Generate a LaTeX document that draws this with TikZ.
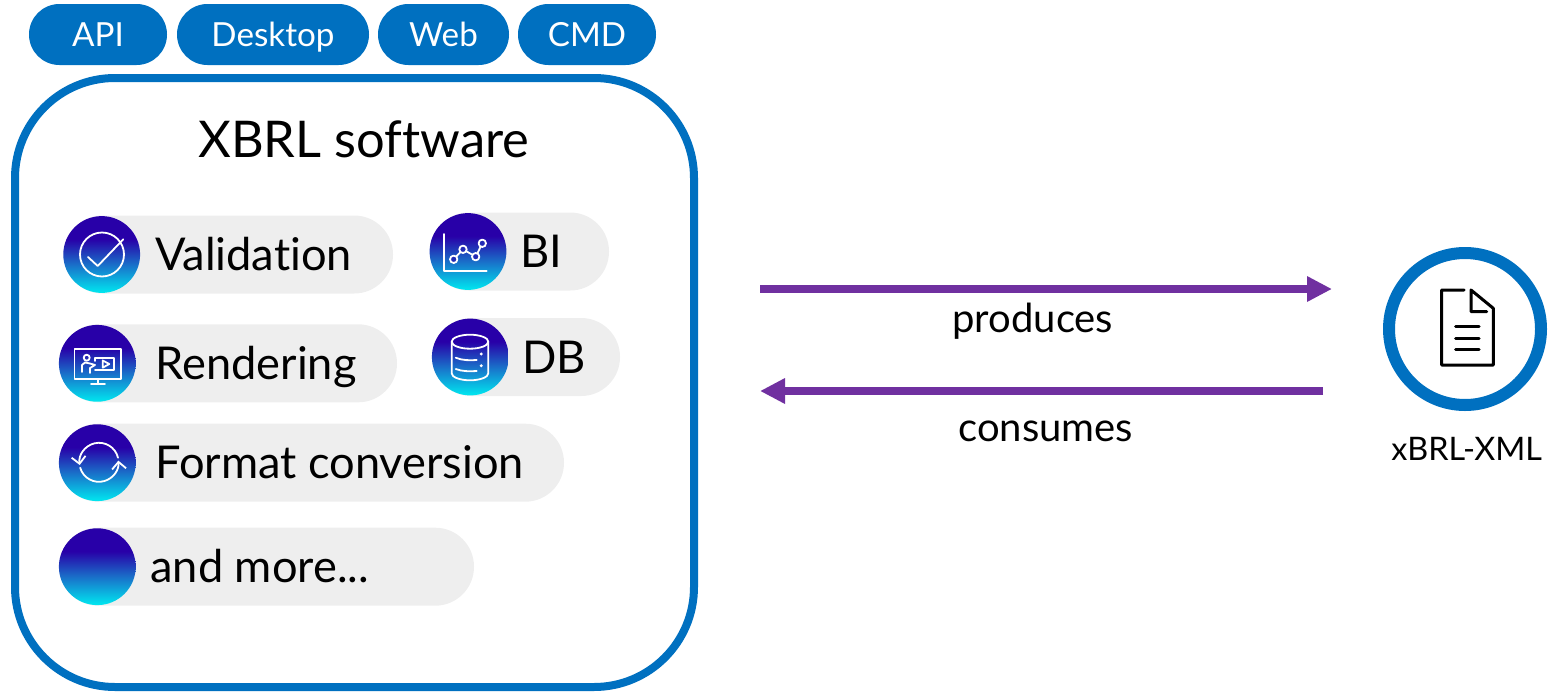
\documentclass[tikz,border=0pt]{standalone}
\usepackage{fontspec}
\setmainfont{Lato}[RawFeature={-liga}]
\usetikzlibrary{positioning}
\usetikzlibrary{arrows.meta}

\definecolor{boxblue}{HTML}{0070C0}
\definecolor{flowpurple}{HTML}{7030A0}
\definecolor{pillgray}{HTML}{EEEEEE}
\definecolor{fadetop}{HTML}{2800A8}
\definecolor{fademid}{HTML}{1A6CC8}
\definecolor{fadelow}{HTML}{00E8F0}
\pgfdeclareverticalshading{iconfade}{100bp}{color(0bp)=(fadelow); color(25bp)=(fadelow); color(44bp)=(fademid); color(60bp)=(fadetop); color(100bp)=(fadetop)}

\tikzset{
    toppill/.style={rectangle, rounded corners=15.2pt, fill=boxblue, text=white, inner sep=0pt, minimum height=30.5pt, text height=12pt, text depth=0pt, font=\fontsize{16.6}{20}\selectfont},
    graypill/.style={rectangle, rounded corners=19.4pt, fill=pillgray, inner sep=0pt, minimum height=39pt},
    icondisc/.style={circle, shading=iconfade, inner sep=0pt, minimum size=38.4pt},
    pilltext/.style={anchor=base west, inner sep=0pt, font=\fontsize{22.6}{26}\selectfont},
    flowtext/.style={anchor=base west, inner sep=0pt, font=\fontsize{20}{24}\selectfont},
    iconline/.style={draw=white, line width=0.9pt, line cap=round, line join=round},
    flowarrow/.style={draw=flowpurple, line width=4pt, -{Triangle[length=12.5pt,width=12pt]}},
    docline/.style={draw=black, line width=1.5pt, line cap=round, line join=round}
}

\begin{document}
\begin{tikzpicture}[x=0.5pt, y=-0.5pt]

\useasboundingbox (0,0) rectangle (1548,691);

% Interface pills
\foreach \name/\cx/\pillw/\txt in {api/98/138/API, desktop/273/192/Desktop, web/443.5/131/Web, cmd/587/138/CMD} {
    \node[toppill, minimum width=\pillw*0.5pt] (\name) at (\cx,34.5) {\txt};
}

% Software box
\node[draw=boxblue, line width=4pt, rounded corners=50pt, minimum width=339.5pt, minimum height=304.5pt, inner sep=0pt] (software) at (354.5,382.5) {};
\node[anchor=base west, inner sep=0pt, font=\fontsize{25.3}{30}\selectfont] (softwaretitle) at (198,157) {XBRL software};

% Feature pills
\foreach \name/\cx/\cy/\rx/\tx/\by/\txt in {
    validation/101.7/254.5/393/155/270/Validation,
    bi/468/251.5/609/520/267/BI,
    rendering/97.3/363.3/397/155/379/Rendering,
    db/470.3/357/620/522/373/DB,
    format/97.3/462.7/564/155/478/Format conversion,
    more/97.3/566.7/474/150/582/{and more...}} {
    \node[graypill, minimum width={(\rx-\cx+38)*0.5pt}] (\name pill) at ({(\rx+\cx-38)/2},\cy) {};
    \node[icondisc] (\name) at (\cx,\cy) {};
    \node[pilltext] (\name text) at (\tx,\by) {\txt};
}

% Validation icon
\draw[iconline] (102,254.5) circle (22);
\draw[iconline] (88,257) -- (97.7,266) -- (123.3,239.3);

% BI icon
\draw[iconline] (444,234) -- (444,270.7) -- (486.7,270.7);
\draw[iconline] (453.7,259.3) -- (463,249.3) -- (475.7,256.7) -- (482.3,243.3);
\foreach \px/\py in {453.7/259.3, 463/249.3, 475.7/256.7, 482.3/243.3} {
    \filldraw[iconline, fill=fadetop!60!fademid] (\px,\py) circle (3.7);
}

% Rendering icon
\draw[iconline] (74.5,349) rectangle (121,379);
\draw[iconline] (97.7,379) -- (97.7,384);
\draw[iconline] (91,384) -- (105,384);
\draw[iconline] (86.7,357.7) circle (3);
\draw[iconline] (82,372) -- (82,365) -- (85,362.5) -- (90,363.5) -- (95,365) -- (90,368) -- (90,373);
\draw[iconline] (95,361) -- (95,358) -- (114,358) -- (114,370) -- (95,370);
\draw[iconline] (102.7,360.5) -- (109.3,364) -- (102.7,367.7) -- cycle;

% DB icon
\draw[iconline] (470,341.7) ellipse (18.3 and 7);
\draw[iconline] (451.7,341.7) -- (451.7,373.3) arc[start angle=180, end angle=0, x radius=18.3, y radius=7] -- (488.3,341.7);
\draw[iconline] (455.7,357.7) .. controls (462,360.5) and (470,360.5) .. (476.7,360);
\draw[iconline] (455.7,369) .. controls (462,371.5) and (470,371.5) .. (476.7,371);
\fill[white] (481.3,354) circle (1.6);
\fill[white] (481.3,365.7) circle (1.6);

% Format icon
\draw[iconline, -{Straight Barb[length=3.5pt,width=7pt]}] (118,457.7) arc[start angle=-13.6, end angle=-188, radius=19.5];
\draw[iconline, -{Straight Barb[length=3.5pt,width=7pt]}] (80.2,467.7) arc[start angle=164, end angle=-5, radius=19.5];

% Document
\node[circle, draw=boxblue, line width=6pt, fill=white, inner sep=0pt, minimum size=76pt] (xbrlxml) at (1465,329) {};
\draw[docline] (1464,290) -- (1441.7,290) -- (1441.7,365) -- (1493.3,365) -- (1493.3,308.3) -- (1471,290) -- (1471,311.7) -- (1486.7,311.7);
\draw[docline] (1455.7,326.3) -- (1479,326.3);
\draw[docline] (1455.7,338) -- (1479,338);
\draw[docline] (1455.7,349.7) -- (1479,349.7);
\node[anchor=base west, inner sep=0pt, font=\fontsize{16.2}{19}\selectfont] (xbrlxmltext) at (1391,460) {xBRL-XML};

% Arrows
\coordinate (producesstart) at (760,289);
\coordinate (producesend) at (1332,289);
\coordinate (consumesstart) at (1323,391);
\coordinate (consumesend) at (760,391);
\draw[flowarrow] (producesstart) -- (producesend);
\draw[flowarrow] (consumesstart) -- (consumesend);
\node[flowtext] (producestext) at (952,332) {produces};
\node[flowtext] (consumestext) at (958,441) {consumes};

\end{tikzpicture}
\end{document}
